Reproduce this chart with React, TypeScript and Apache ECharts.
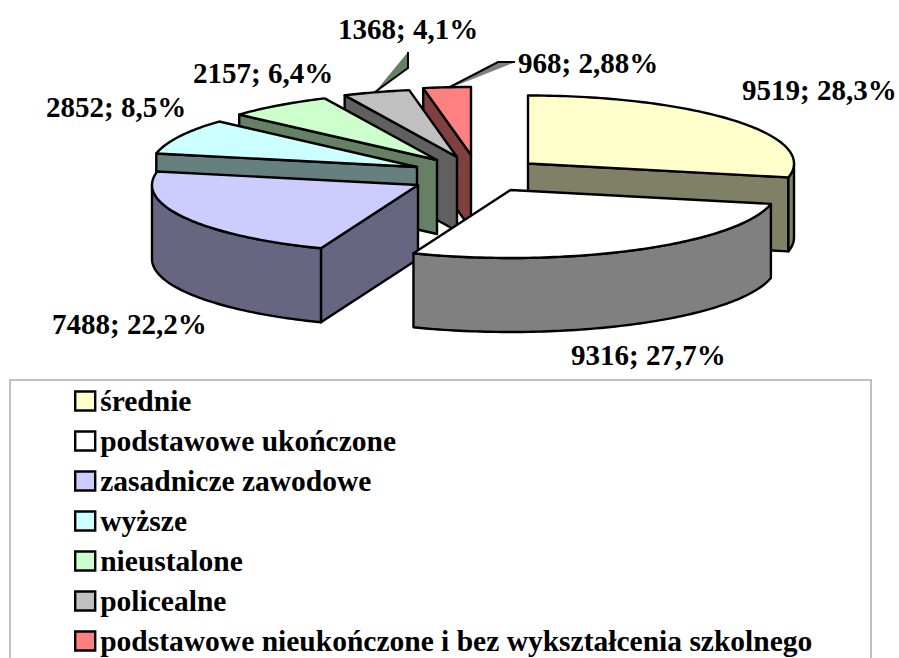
import React, { useEffect, useRef } from "react";
import * as echarts from "echarts";

const categories = [
  "średnie",
  "podstawowe ukończone",
  "zasadnicze zawodowe",
  "wyższe",
  "nieustalone",
  "policealne",
  "podstawowe nieukończone i bez wykształcenia szkolnego",
];
const values = [9519, 9316, 7488, 2852, 2157, 1368, 968];
const percentLabels = ["28,3%", "27,7%", "22,2%", "8,5%", "6,4%", "4,1%", "2,88%"];

const topColors = ["#FFFFCC", "#FFFFFF", "#CCCCFF", "#CCFFFF", "#CCFFCC", "#C0C0C0", "#FF8080"];
const sideColors = ["#808066", "#808080", "#666680", "#668080", "#668066", "#606060", "#804040"];

// exploded slice apexes (screen position of each slice's tip on the top face)
const apexes = [
  [528, 163.5],
  [510.5, 190],
  [418, 185],
  [417, 167],
  [437, 160],
  [457, 157],
  [471, 155],
];
const labelPos = [
  [742, 90],
  [571, 355],
  [52, 324],
  [46, 107],
  [193, 73],
  [338, 29],
  [518, 63],
];
const drawOrder = [6, 5, 4, 3, 2, 0, 1];

const RX = 266;
const RY = 68;
const DEPTH = 74;
const FONT = '"Liberation Serif", "Times New Roman", serif';
const total = values.reduce((a, b) => a + b, 0);

const startAngles: number[] = [];
values.reduce((acc, v, i) => {
  startAngles[i] = acc;
  return acc + (v / total) * Math.PI * 2;
}, 0);

const pt = (i: number, t: number, dy = 0): number[] => [
  apexes[i][0] + RX * Math.sin(t),
  apexes[i][1] - RY * Math.cos(t) + dy,
];

const arcPoints = (i: number, a: number, b: number, dy = 0) => {
  const pts: number[][] = [];
  const n = Math.max(2, Math.ceil(Math.abs(b - a) / 0.02));
  for (let k = 0; k <= n; k++) pts.push(pt(i, a + ((b - a) * k) / n, dy));
  return pts;
};

const stroke = { stroke: "#000", lineWidth: 2.4, lineJoin: "round" as const };

const poly = (points: number[][], fill: string, z2: number) => ({
  type: "polygon",
  shape: { points },
  style: { fill, ...stroke },
  z2,
  silent: true,
});

const buildSlice = (i: number) => {
  const a = startAngles[i];
  const b = a + (values[i] / total) * Math.PI * 2;
  const apex = apexes[i];
  const apexLow = [apex[0], apex[1] + DEPTH];
  const side = sideColors[i];
  const children: any[] = [];
  const wall = (t: number) => {
    const p = pt(i, t);
    const q = pt(i, t, DEPTH);
    return poly([apex, p, q, apexLow], side, 1);
  };
  if (Math.sin(a) < -1e-6) children.push(wall(a));
  if (Math.sin(b) > 1e-6) children.push(wall(b));
  const fa = Math.max(a, Math.PI / 2);
  const fb = Math.min(b, (Math.PI * 3) / 2);
  if (fb > fa) {
    const upper = arcPoints(i, fa, fb);
    const lower = arcPoints(i, fb, fa, DEPTH);
    children.push(poly([...upper, ...lower], side, 2));
  }
  children.push(poly([apex, ...arcPoints(i, a, b)], topColors[i], 3));
  return children;
};

const App = () => {
  const ref = useRef<HTMLDivElement>(null);
  useEffect(() => {
    document.body.style.margin = "0";
    const chart = echarts.init(ref.current!, null, { renderer: "svg" });
    const series: any[] = categories.map((name, i) => ({
      type: "custom",
      name,
      coordinateSystem: "none",
      z: 2 + drawOrder.indexOf(i),
      silent: true,
      itemStyle: { color: topColors[i] },
      data: [{ name, value: values[i] }],
      renderItem: () => ({ type: "group", children: buildSlice(i) }),
    }));
    chart.setOption({
      animation: false,
      backgroundColor: "#fff",
      legend: {
        data: categories,
        orient: "vertical",
        left: 74,
        top: 386,
        height: 400,
        width: 800,
        padding: 0,
        itemWidth: 20,
        itemHeight: 19,
        itemGap: 10,
        icon: "rect",
        selectedMode: false,
        itemStyle: { borderColor: "#000", borderWidth: 2.4 },
        textStyle: {
          fontFamily: FONT,
          fontWeight: "bold",
          fontSize: 29.5,
          color: "#000",
        },
      },
      graphic: [
        {
          type: "rect",
          silent: true,
          z: 0,
          shape: { x: 10, y: 380, width: 861, height: 330 },
          style: { fill: "#fff", stroke: "#c0c0c0", lineWidth: 2 },
        },
        {
          type: "polygon",
          silent: true,
          z: 1,
          shape: { points: [[375, 92], [408, 52], [408, 68]] },
          style: { fill: "#668066" },
        },
        {
          type: "polyline",
          silent: true,
          z: 1,
          shape: { points: [[408, 52], [408, 68], [375, 92]] },
          style: { fill: "none", stroke: "#000", lineWidth: 2 },
        },
        {
          type: "polygon",
          silent: true,
          z: 1,
          shape: { points: [[450, 88], [498, 62], [513, 63]] },
          style: { fill: "#808080" },
        },
        {
          type: "polyline",
          silent: true,
          z: 1,
          shape: { points: [[448, 88], [498, 62], [515, 62]] },
          style: { fill: "none", stroke: "#000", lineWidth: 2 },
        },
        ...categories.map((_, i) => ({
          type: "text",
          silent: true,
          z: 20,
          x: labelPos[i][0],
          y: labelPos[i][1],
          style: {
            text: `${values[i]}; ${percentLabels[i]}`,
            font: `bold 29px ${FONT}`,
            fill: "#000",
            verticalAlign: "middle",
            align: "left",
          },
        })),
      ],
      series,
    });
    return () => chart.dispose();
  }, []);
  return <div ref={ref} style={{ width: 899, height: 658, overflow: "hidden" }} />;
};

export default App;
